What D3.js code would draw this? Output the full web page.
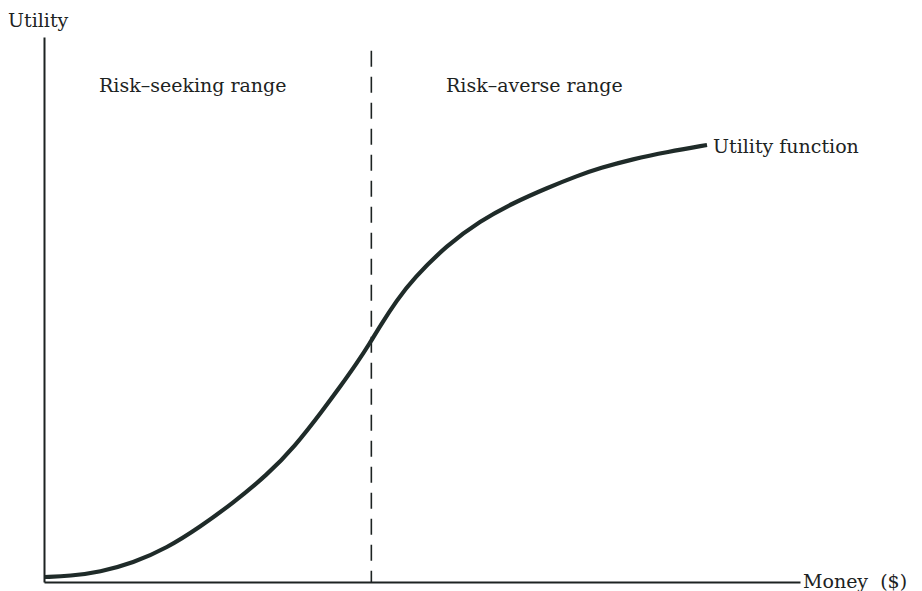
<!DOCTYPE html>
<html>
<head>
<meta charset="utf-8">
<script src="https://cdn.jsdelivr.net/npm/d3@7"></script>
<style>
  html, body { margin: 0; padding: 0; background: #ffffff; }
  svg { display: block; }
  text { font-family: "DejaVu Serif", "Liberation Serif", serif; fill: #1d2322; }
</style>
</head>
<body>
<svg id="chart" width="922" height="591"></svg>
<script>
// ---- data (money, utility in arbitrary units) ----
const money   = [0.1, 3.44, 7.41, 11.77, 16.27, 20.63, 25.0, 29.5, 33.2, 36.9, 39.15, 41.4, 43.12, 44.44, 46.69, 48.81, 53.31, 57.67, 62.04, 66.53, 70.5, 73.54, 77.91, 82.41, 87.7];
const utility = [0.92, 1.1, 1.83, 3.49, 6.24, 10.09, 14.5, 19.63, 24.9, 31.56, 35.78, 40.18, 43.85, 46.97, 51.74, 55.6, 61.83, 66.24, 69.54, 72.29, 74.5, 75.96, 77.61, 78.9, 80.18];
const dividerMoney = 43.3;
const dividerTop = 97.5;
const yAxisLabel = "Utility";
const xAxisLabel = "Money\u00a0\u00a0($)";
const regionLabels = ["Risk\u2013seeking range", "Risk\u2013averse range"];
const curveLabel = "Utility function";

const svg = d3.select("#chart");
const x = d3.scaleLinear().domain([0, 100]).range([44, 800]);
const y = d3.scaleLinear().domain([0, 100]).range([582, 37]);
const ink = "#1d2322";

// axes (no ticks)
const xAxis = svg.append("g").attr("transform", `translate(0,${y(0)})`)
  .call(d3.axisBottom(x).tickValues([]).tickSizeOuter(0));
const yAxis = svg.append("g").attr("transform", `translate(${x(0)},0)`)
  .call(d3.axisLeft(y).tickValues([]).tickSizeOuter(0));
[xAxis, yAxis].forEach(g => g.select(".domain").attr("stroke", ink).attr("stroke-width", 2));

// dashed divider
svg.append("line")
  .attr("x1", x(dividerMoney)).attr("x2", x(dividerMoney))
  .attr("y1", y(dividerTop)).attr("y2", y(0))
  .attr("stroke", ink).attr("stroke-width", 1.6)
  .attr("stroke-dasharray", "16,10");

// utility curve
const pts = money.map((m, i) => [m, utility[i]]);
svg.append("path")
  .datum(pts)
  .attr("fill", "none")
  .attr("stroke", "#1f2b29")
  .attr("stroke-width", 4.2)
  .attr("stroke-linecap", "butt")
  .attr("d", d3.line().x(d => x(d[0])).y(d => y(d[1])).curve(d3.curveBasis));

// labels
const fs = 19;
svg.append("text").attr("x", 8).attr("y", 27).attr("font-size", fs).text(yAxisLabel);
svg.append("text").attr("x", 99).attr("y", 92).attr("font-size", fs).text(regionLabels[0]);
svg.append("text").attr("x", 446).attr("y", 92).attr("font-size", fs).text(regionLabels[1]);
svg.append("text").attr("x", x(money[money.length - 1]) + 6).attr("y", 153).attr("font-size", fs).text(curveLabel);
svg.append("text").attr("x", 803).attr("y", 588).attr("font-size", fs).text(xAxisLabel);
</script>
</body>
</html>
